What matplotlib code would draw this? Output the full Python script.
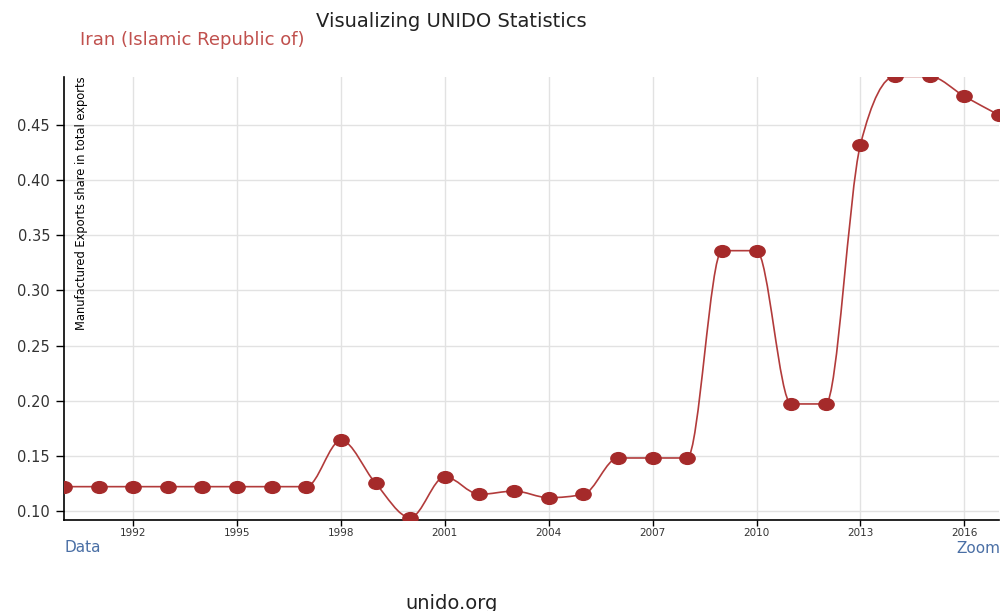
import numpy as np
import matplotlib
matplotlib.use('Agg')
import matplotlib.pyplot as plt
from matplotlib.path import Path
from matplotlib.patches import PathPatch
from matplotlib.transforms import Affine2D

# Manufactured exports share in total exports, Iran
years = list(range(1990, 2018))
share = [0.122, 0.122, 0.122, 0.122, 0.122, 0.122, 0.122, 0.122,
         0.164, 0.125, 0.094, 0.131, 0.115, 0.118, 0.112, 0.115,
         0.148, 0.148, 0.148, 0.336, 0.336, 0.197, 0.197, 0.432,
         0.494, 0.494, 0.476, 0.459]
x_ticks = [1992, 1995, 1998, 2001, 2004, 2007, 2010, 2013, 2016]
y_ticks = [0.10, 0.15, 0.20, 0.25, 0.30, 0.35, 0.40, 0.45]

plt.rcParams['font.family'] = ['DejaVu Sans']


def monotone_path(xs, ys):
    # d3 curveMonotoneX style bezier segments
    xs = np.asarray(xs, float)
    ys = np.asarray(ys, float)
    n = len(xs)
    h = np.diff(xs)
    s = np.diff(ys) / h
    t = np.zeros(n)
    for i in range(1, n - 1):
        s0, s1 = s[i - 1], s[i]
        p = (s0 * h[i] + s1 * h[i - 1]) / (h[i - 1] + h[i])
        t[i] = (np.sign(s0) + np.sign(s1)) * min(abs(s0), abs(s1), 0.5 * abs(p))
    t[0] = (3 * s[0] - t[1]) / 2
    t[-1] = (3 * s[-1] - t[-2]) / 2
    verts = [(xs[0], ys[0])]
    codes = [Path.MOVETO]
    for i in range(n - 1):
        dx = h[i] / 3
        verts += [(xs[i] + dx, ys[i] + dx * t[i]),
                  (xs[i + 1] - dx, ys[i + 1] - dx * t[i + 1]),
                  (xs[i + 1], ys[i + 1])]
        codes += [Path.CURVE4] * 3
    return Path(verts, codes)


fig = plt.figure(figsize=(10.01, 6.11), dpi=100)
ax = fig.add_axes([0.0639, 0.149, 0.934, 0.725])

ax.set_xlim(1990, 2017)
ax.set_ylim(0.0918, 0.4935)

ax.add_patch(PathPatch(monotone_path(years, share), facecolor='none',
                       edgecolor='#b23b3b', lw=1.2, zorder=3))
# wide elliptical markers like the reference
oval = Path.unit_circle().transformed(Affine2D().scale(1.3, 1.0))
ax.plot(years, share, linestyle='none', marker=oval, markersize=11,
        color='#a52a2a', zorder=4)

ax.set_xticks(x_ticks)
ax.set_yticks(y_ticks)
ax.set_yticklabels(['%.2f' % v for v in y_ticks])
ax.grid(True, color='#e2e2e2', lw=1)
ax.set_axisbelow(True)
ax.tick_params(axis='x', labelsize=7.5, labelcolor='#333333', length=4, width=1, pad=2)
ax.tick_params(axis='y', labelsize=10.5, labelcolor='#333333', length=6, width=1, pad=4)
for side in ['top', 'right']:
    ax.spines[side].set_visible(False)
for side in ['left', 'bottom']:
    ax.spines[side].set_color('black')
    ax.spines[side].set_linewidth(1.2)

ax.text(0.012, 1.0, 'Manufactured Exports share in total exports', transform=ax.transAxes,
        rotation=90, ha='left', va='top', fontsize=9.2, color='black',
        fontstretch='condensed')

fig.text(0.451, 0.964, 'Visualizing UNIDO Statistics', ha='center', va='center',
         fontsize=14, color='#222222')
fig.text(0.08, 0.934, 'Iran (Islamic Republic of)', ha='left', va='center',
         fontsize=13, color='#c0504d')
fig.text(0.064, 0.104, 'Data', ha='left', va='center', fontsize=11, color='#4a6fa5')
fig.text(0.999, 0.102, 'Zoom', ha='right', va='center', fontsize=11, color='#4a6fa5')
fig.text(0.451, 0.013, 'unido.org', ha='center', va='center', fontsize=14, color='#222222')

plt.savefig('out.png', dpi=100)
